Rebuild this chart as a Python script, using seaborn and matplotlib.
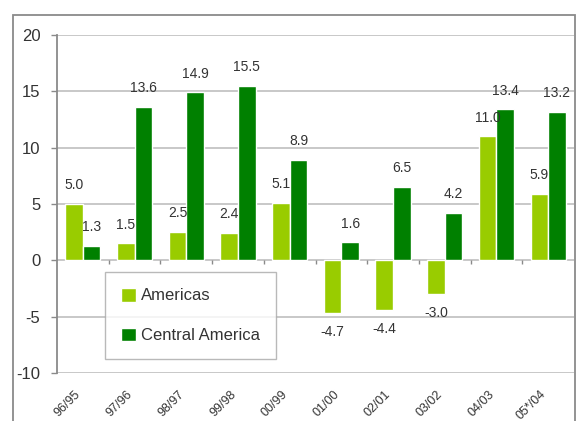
import matplotlib
matplotlib.use("Agg")
import matplotlib.pyplot as plt
import matplotlib.transforms as mtransforms
from matplotlib.patches import Rectangle
import pandas as pd
import seaborn as sns

# Periods and annual percent change per region
periods = ["96/95", "97/96", "98/97", "99/98", "00/99", "01/00", "02/01", "03/02", "04/03", "05*/04"]
americas = [5.0, 1.5, 2.5, 2.4, 5.1, -4.7, -4.4, -3.0, 11.0, 5.9]
central_america = [1.3, 13.6, 14.9, 15.5, 8.9, 1.6, 6.5, 4.2, 13.4, 13.2]
series_names = ["Americas", "Central America"]
y_ticks = [-10, -5, 0, 5, 10, 15, 20]
title_text = "(average annual percent change)"

df = pd.DataFrame({
    "period": periods * 2,
    "value": americas + central_america,
    "region": [series_names[0]] * len(periods) + [series_names[1]] * len(periods),
})

sns.set_theme(style="white")
plt.rcParams["font.family"] = ["Liberation Sans", "DejaVu Sans"]

W, H = 579, 421
fig = plt.figure(figsize=(W / 100, H / 100), dpi=100)
ax = fig.add_axes([57 / W, 1 - 373 / H, 517 / W, 338 / H])

# outer frame around the chart
frame = Rectangle((13 / W, -0.1), 562 / W, 1.1 - 15 / H, transform=fig.transFigure,
                  fill=False, edgecolor="#8a8a8a", linewidth=1.3, clip_on=False)
fig.patches.append(frame)

# header line sitting just above the top edge; only its descenders reach the canvas
fig.text(315 / W, 1 + 3.5 / H, title_text, fontsize=11.5, color="#333333",
         ha="left", va="baseline")

grid_c = "#c4c4c4"
for t in y_ticks:
    ax.axhline(t, color=grid_c, linewidth=1.3, zorder=0)

sns.barplot(data=df, x="period", y="value", hue="region", order=periods,
            hue_order=series_names, palette=["#99CC00", "#008000"],
            width=0.68, gap=0, saturation=1, errorbar=None, ax=ax, zorder=2)

# small tick marks on the zero line between categories
ax.vlines([i + 0.5 for i in range(len(periods) - 1)], -0.35, 0, color="#8a8a8a",
          linewidth=1.0, zorder=3)

for cont in ax.containers:
    ax.bar_label(cont, fmt="%.1f", padding=8.5, fontsize=10, color="#333333")

ax.set_xlim(-0.5, len(periods) - 0.5)
ax.set_ylim(-10, 20)
ax.set_yticks(y_ticks)
ax.set_yticklabels([str(t) for t in y_ticks], fontsize=12, color="#333333")
ax.set_xlabel("")
ax.set_ylabel("")

for s in ["top", "right", "bottom"]:
    ax.spines[s].set_visible(False)
ax.spines["left"].set_color("#8a8a8a")
ax.spines["left"].set_linewidth(1.3)

ax.tick_params(axis="y", which="both", left=True, length=4, width=1.0,
               color="#8a8a8a", pad=8)
ax.tick_params(axis="x", which="both", bottom=False, length=0, pad=14)
ax.set_xticks(range(len(periods)))
ax.set_xticklabels(periods, rotation=45, ha="right", va="center",
                   rotation_mode="anchor", fontsize=9, color="#333333")
shift = mtransforms.ScaledTranslation(-4 / 100, 0, fig.dpi_scale_trans)
for lbl in ax.get_xticklabels():
    lbl.set_transform(lbl.get_transform() + shift)

handles, labels = ax.get_legend_handles_labels()
leg = ax.legend(handles, labels, loc="upper left", bbox_to_anchor=(0.093, 0.299),
                fontsize=12, frameon=True, fancybox=False, shadow=False,
                handlelength=0.9, handleheight=0.9, handletextpad=0.3,
                labelspacing=1.45, borderpad=0.95, borderaxespad=0)
leg.get_frame().set_edgecolor("#a8a8a8")
leg.get_frame().set_linewidth(1.0)
for t in leg.get_texts():
    t.set_color("#333333")

fig.savefig("out.png", dpi=100)
